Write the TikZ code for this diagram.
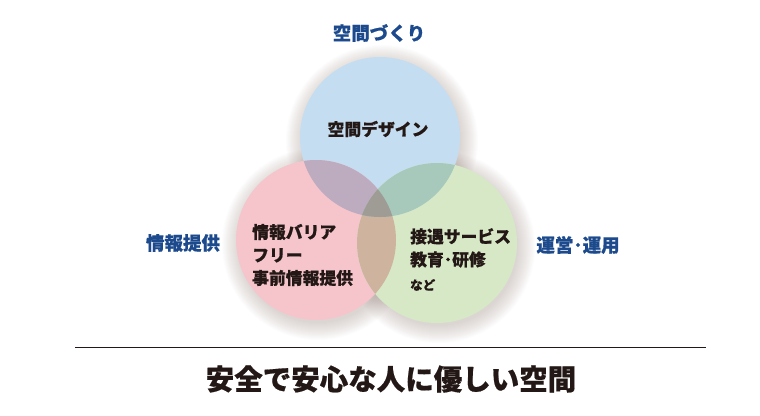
\documentclass[tikz,border=0pt]{standalone}
\usepackage{fontspec}
\setmainfont{Noto Sans CJK JP}[BoldFeatures={FakeBold=0.6}]
\definecolor{labelblue}{RGB}{28,74,140}
\definecolor{inkblack}{RGB}{35,24,21}
\definecolor{shadowgray}{RGB}{110,85,75}
\definecolor{spaceblue}{RGB}{197,221,241}
\definecolor{infopink}{RGB}{245,197,203}
\definecolor{servgreen}{RGB}{215,232,199}
\definecolor{bluepink}{RGB}{189,171,192}
\definecolor{bluegreen}{RGB}{166,201,188}
\definecolor{pinkgreen}{RGB}{206,179,158}
\definecolor{allthree}{RGB}{159,156,150}

\begin{document}
\begin{tikzpicture}[x=1pt, y=-1pt, every node/.style={font=\bfseries, inner sep=0pt},
	field/.style={text=labelblue, font=\fontsize{18.5}{22}\selectfont\bfseries},
	inside/.style={text=inkblack, align=left, font=\fontsize{16.8}{23}\selectfont\bfseries}]
	\useasboundingbox (0,0) rectangle (760,415);
	\coordinate (space) at (380,137);
	\coordinate (info) at (316,240);
	\coordinate (serv) at (437,243);
	% soft shadow
	\foreach \c in {space,info,serv}
		\foreach \r in {1,...,18}
			\fill[shadowgray, opacity=0.014] ([shift={(2,4)}]\c) circle (78pt+\r pt);
	\fill[spaceblue] (space) circle (80pt);
	\fill[infopink] (info) circle (80pt);
	\fill[servgreen] (serv) circle (80pt);
	\begin{scope}
		\clip (info) circle (80pt);
		\fill[pinkgreen] (serv) circle (80pt);
	\end{scope}
	\begin{scope}
		\clip (space) circle (80pt);
		\fill[bluepink] (info) circle (80pt);
		\fill[bluegreen] (serv) circle (80pt);
		\clip (info) circle (80pt);
		\fill[allthree] (serv) circle (80pt);
	\end{scope}
	\node[field] (spacelabel) at (379,33) {空間づくり};
	\node[field] (infolabel) at (183,243) {情報提供};
	\node[field] (servlabel) at (578,245) {運営･運用};
	\node[inside, anchor=center] (spacetext) at (378,129) {空間デザイン};
	\node[inside, anchor=west] (infotext) at (252,255) {情報バリア\\フリー\\事前情報提供};
	\node[inside, anchor=north west] (servtext) at (410,228) {接遇サービス\\教育･研修\\[1pt]{\fontsize{12.5}{14}\selectfont など}};
	\draw[inkblack, line width=0.9pt] (75,347.5) -- (706,347.5);
	\node[text=inkblack, font=\fontsize{28.5}{32}\selectfont\bfseries] (motto) at (391,379) {安全で安心な人に優しい空間};
\end{tikzpicture}
\end{document}
